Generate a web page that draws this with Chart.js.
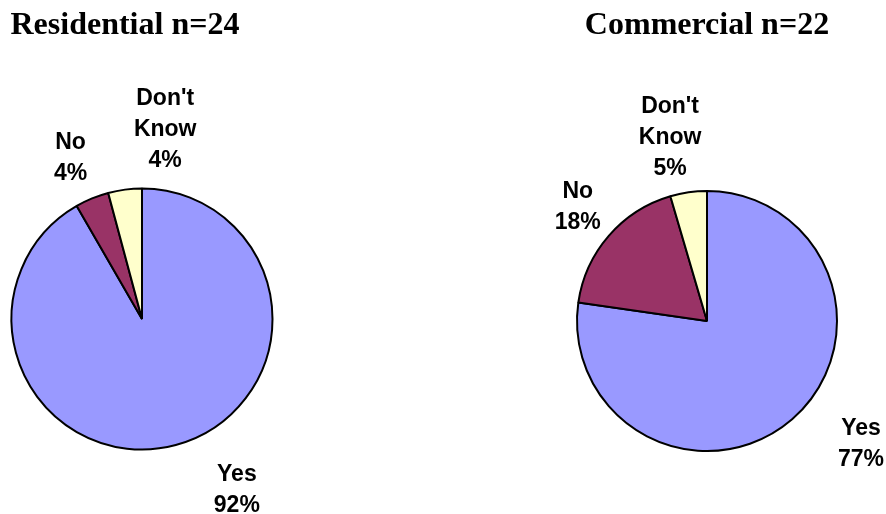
<!DOCTYPE html>
<html>
<head>
<meta charset="utf-8">
<script src="https://cdn.jsdelivr.net/npm/chart.js@4"></script>
<style>
  html, body { margin: 0; padding: 0; background: #fff; }
  #wrap { position: relative; width: 886px; height: 514px; overflow: hidden; }
  canvas { position: absolute; top: 0; }
  #c1 { left: 0; }
  #c2 { left: 443px; }
</style>
</head>
<body>
<div id="wrap">
  <canvas id="c1" width="443" height="514"></canvas>
  <canvas id="c2" width="443" height="514"></canvas>
</div>
<script>
// ---- data ----
const categories = ["Yes", "No", "Don't Know"];
const residentialCounts = [22, 1, 1];
const commercialCounts = [17, 4, 1];
const residentialTitle = "Residential n=24";
const commercialTitle = "Commercial n=22";

const sliceColors = ['#9999FF', '#993366', '#FFFFCC'];

// labels drawn outside each slice, positioned from the arc geometry
const sliceLabels = {
  id: 'sliceLabels',
  afterDatasetsDraw(chart, args, opts) {
    const ctx = chart.ctx;
    const meta = chart.getDatasetMeta(0);
    const data = chart.data.datasets[0].data;
    const total = data.reduce((a, b) => a + b, 0);
    ctx.save();
    ctx.font = `bold ${opts.size}px ${opts.family}`;
    ctx.fillStyle = '#000';
    ctx.textAlign = 'center';
    ctx.textBaseline = 'alphabetic';
    const cap = opts.size * 0.716;
    meta.data.forEach((arc, i) => {
      const p = arc.getProps(['x', 'y', 'startAngle', 'endAngle', 'outerRadius'], true);
      const a = (p.startAngle + p.endAngle) / 2 + opts.turn[i] * Math.PI / 180;
      const d = p.outerRadius + opts.gap[i];
      const cx = p.x + Math.cos(a) * d;
      const cy = p.y + Math.sin(a) * d;
      const lines = chart.data.labels[i].split(' ')
        .concat([Math.round(data[i] / total * 100) + '%']);
      const h = (lines.length - 1) * opts.lineHeight + cap;
      lines.forEach((t, j) => {
        ctx.fillText(t, cx, cy - h / 2 + cap + j * opts.lineHeight);
      });
    });
    ctx.restore();
  }
};

function makePie(id, counts, title, titleAlign, padding, titlePad, turn, gap) {
  return new Chart(document.getElementById(id), {
    type: 'pie',
    data: {
      labels: categories,
      datasets: [{
        data: counts,
        backgroundColor: sliceColors,
        borderColor: '#000',
        borderWidth: 2
      }]
    },
    plugins: [sliceLabels],
    options: {
      responsive: false,
      animation: false,
      events: [],
      layout: { padding: padding },
      plugins: {
        legend: { display: false },
        tooltip: { enabled: false },
        title: {
          display: true,
          text: title,
          align: titleAlign,
          color: '#000',
          font: { family: 'Liberation Serif', size: 32, weight: 'bold', lineHeight: 1.2 },
          padding: titlePad
        },
        sliceLabels: {
          family: '"Liberation Sans", Arial, sans-serif',
          size: 23,
          lineHeight: 31,
          turn: turn,
          gap: gap
        }
      }
    }
  });
}

makePie('c1', residentialCounts, residentialTitle, 'start',
  { left: 10.5, right: 169.5, top: 0, bottom: 63.5 },
  { top: 6.8, bottom: 142.3 },
  [-14.3, -1.25, 14.4],
  [63.3, 47, 62.4]);

makePie('c2', commercialCounts, commercialTitle, 'center',
  { left: 133, right: 48, top: 0, bottom: 62 },
  { top: 6.8, bottom: 144.8 },
  [-10.8, 0.9, -3.1],
  [66.2, 43.4, 58.7]);
</script>
</body>
</html>
